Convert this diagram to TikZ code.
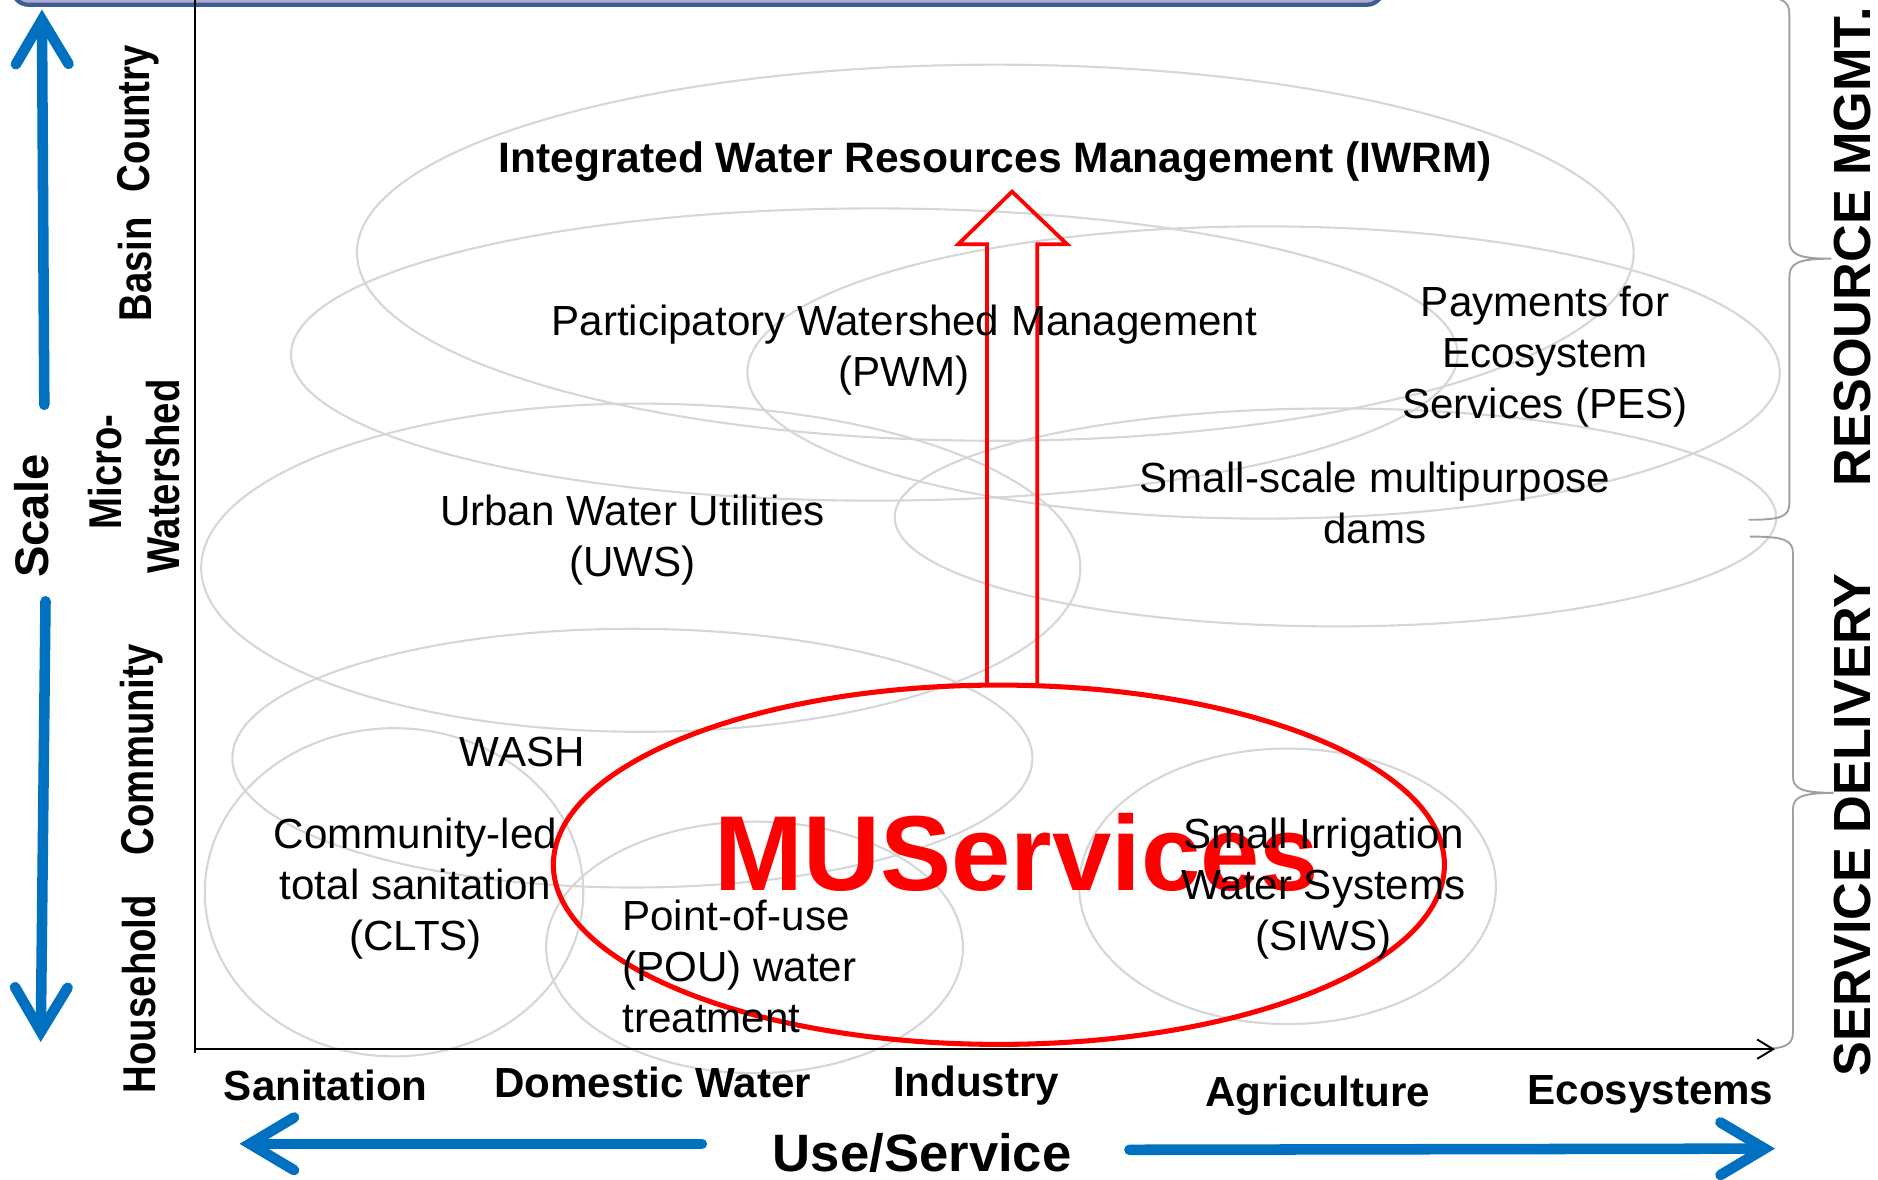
\documentclass[tikz,border=0pt]{standalone}
\usepackage{fontspec}
\setmainfont{Liberation Sans}
\usepackage{graphicx}
\usetikzlibrary{arrows.meta}

\definecolor{scaleblue}{RGB}{0,112,192}
\definecolor{ringgray}{RGB}{214,214,214}
\definecolor{bracegray}{RGB}{160,160,160}
\definecolor{barblue}{RGB}{60,95,145}
\definecolor{barfill}{RGB}{178,168,208}

\newcommand{\tallbf}[1]{\scalebox{1}[1.2]{#1}}

\tikzset{
  ring/.style={draw=ringgray, line width=0.5pt},
  bracket/.style={draw=bracegray, line width=0.45pt},
  bluearrow/.style={draw=scaleblue, line width=2.5pt, line cap=round,
    -{Straight Barb[length=10.5pt,width=12.5pt,line cap=round]}},
  body/.style={font=\fontsize{10}{12.1}\selectfont, align=center, inner sep=0pt},
  catlabel/.style={font=\fontsize{10}{12}\selectfont\bfseries, inner sep=0pt},
  level/.style={font=\fontsize{9.1}{11}\selectfont\bfseries, rotate=90, inner sep=0pt},
  sidelabel/.style={font=\fontsize{12.4}{14}\selectfont\bfseries, rotate=90, inner sep=0pt},
}

\begin{document}
\begin{tikzpicture}[x=0.01cm, y=-0.01cm, >=Stealth]
\useasboundingbox (0,0) rectangle (1568,985);
\clip (0,0) rectangle (1568,985);

% title bar cut by the top edge
\draw[barblue, fill=barfill, line width=1pt, rounded corners=4pt] (10,-60) rectangle (1155,4);

% approaches
\draw[ring] (831,211) ellipse [x radius=533, y radius=157];
\draw[ring] (730,296) ellipse [x radius=487, y radius=122];
\draw[ring] (1055,311) ellipse [x radius=431, y radius=122];
\draw[ring] (1115,432) ellipse [x radius=368, y radius=91];
\draw[ring] (535,474) ellipse [x radius=367, y radius=137];
\draw[ring] (528,633) ellipse [x radius=334, y radius=108];
\draw[ring] (329,745) ellipse [x radius=158, y radius=137];
\draw[ring] (630,791) ellipse [x radius=174, y radius=105];
\draw[ring] (1075,740) ellipse [x radius=174, y radius=115];

% braces
\draw[bracket] (1460,-3) .. controls (1488,-3) and (1494,0) .. (1494,12) -- (1494,200)
  .. controls (1494,212) and (1500,216) .. (1529,216)
  .. controls (1500,216) and (1494,220) .. (1494,232) -- (1494,420)
  .. controls (1494,431) and (1488,434) .. (1460,434);
\draw[bracket] (1461,448) .. controls (1490,448) and (1497,451) .. (1497,462) -- (1497,648)
  .. controls (1497,658) and (1503,662) .. (1531,662)
  .. controls (1503,662) and (1497,666) .. (1497,676) -- (1497,862)
  .. controls (1497,873) and (1490,876) .. (1465,876);

% axes
\coordinate (O) at (163,876);
\coordinate (ytop) at (163,0);
\coordinate (xend) at (1482,876);
\draw[line width=0.45pt] (ytop) -- (163,879);
\draw[line width=0.45pt, -{Straight Barb[length=3.8pt,width=4.6pt]}] (O) -- (xend);

% MUS
\draw[red, line width=1.2pt] (834,722) ellipse [x radius=372, y radius=150];
\coordinate (mutop) at (845,572);
\draw[red, line width=0.9pt] (824,572) -- (824,204) -- (800,204) -- (845,160)
  -- (891,204) -- (866,204) -- (866,572);
\node[font=\fontsize{25.3}{30}\selectfont\bfseries, text=red, inner sep=0pt] (mus) at (849,712) {MUServices};

% labels
\node[font=\fontsize{10.1}{12}\selectfont\bfseries, inner sep=0pt] (iwrm) at (831,135) {Integrated Water Resources Management (IWRM)};
\node[body] (pwm) at (755,292) {Participatory Watershed Management\\(PWM)};
\node[body] (pes) at (1290,298) {Payments for\\Ecosystem\\Services (PES)};
\node[body] (dams) at (1148,420) {Small-scale multipurpose\\dams};
\node[body] (uws) at (528,451) {Urban Water Utilities\\(UWS)};
\node[body] (wash) at (436,628) {WASH};
\node[body] (clts) at (347,742) {Community-led\\total sanitation\\(CLTS)};
\node[body, anchor=west, align=left] (pou) at (519,807) {Point-of-use\\(POU) water\\treatment};
\node[body] (siws) at (1105,742) {Small Irrigation\\Water Systems\\(SIWS)};

% use axis
\node[catlabel] (sanit) at (272,906) {Sanitation};
\node[catlabel] (domestic) at (545,904) {Domestic Water};
\node[catlabel] (industry) at (815,906) {Industry};
\node[catlabel] (agri) at (1100,915) {Agriculture};
\node[catlabel] (eco) at (1378,914) {Ecosystems};
\node[font=\fontsize{12.5}{15}\selectfont\bfseries, inner sep=0pt] (use) at (770,963) {Use/Service};
\coordinate (leftfrom) at (586,955);
\coordinate (leftto) at (200,955);
\coordinate (rightfrom) at (943,960);
\coordinate (rightto) at (1482,959);
\draw[bluearrow] (leftfrom) -- (leftto);
\draw[bluearrow] (rightfrom) -- (rightto);

% scale axis
\node[font=\fontsize{11.2}{13}\selectfont\bfseries, rotate=90, inner sep=0pt] (scale) at (26,431) {Scale};
\coordinate (upfrom) at (37,338);
\coordinate (upto) at (35,8);
\coordinate (downfrom) at (38,502);
\coordinate (downto) at (34,870);
\draw[bluearrow] (upfrom) -- (upto);
\draw[bluearrow] (downfrom) -- (downto);
\node[level] (country) at (115,99) {\tallbf{Country}};
\node[level] (basin) at (113,225) {\tallbf{Basin}};
\node[level] (micro) at (88,394) {\tallbf{Micro-}};
\node[level] (watershed) at (136,398) {\tallbf{Watershed}};
\node[level] (community) at (118,626) {\tallbf{Community}};
\node[level] (household) at (116,830) {\tallbf{Household}};

% domains
\node[sidelabel] (resmgmt) at (1547,206) {RESOURCE MGMT.};
\node[sidelabel] (service) at (1547,689) {SERVICE DELIVERY};

\end{tikzpicture}
\end{document}
